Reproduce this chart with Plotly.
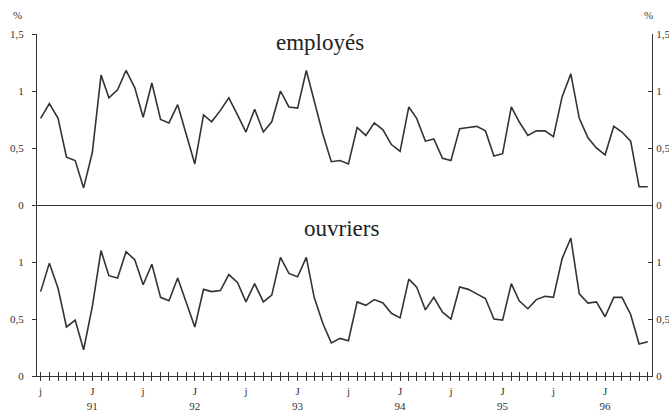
import pandas as pd
import plotly.graph_objects as go

# mois : juillet 1990 -> juin 1996
mois = pd.date_range("1990-07-01", "1996-06-01", freq="MS")

employes = [
    0.76, 0.89, 0.76, 0.42, 0.39, 0.15, 0.46, 1.14, 0.94, 1.01,
    1.18, 1.03, 0.77, 1.07, 0.75, 0.72, 0.88, 0.62, 0.36, 0.79,
    0.73, 0.83, 0.94, 0.79, 0.64, 0.84, 0.64, 0.73, 1.00, 0.86,
    0.85, 1.18, 0.92, 0.62, 0.38, 0.39, 0.36, 0.68, 0.61, 0.72,
    0.66, 0.53, 0.47, 0.86, 0.76, 0.56, 0.58, 0.41, 0.39, 0.67,
    0.68, 0.69, 0.65, 0.43, 0.45, 0.86, 0.73, 0.61, 0.65, 0.65,
    0.60, 0.95, 1.15, 0.76, 0.59, 0.50, 0.44, 0.69, 0.64, 0.56,
    0.16, 0.16,
]

ouvriers = [
    0.74, 0.99, 0.77, 0.43, 0.49, 0.23, 0.61, 1.10, 0.88, 0.86,
    1.09, 1.02, 0.80, 0.98, 0.69, 0.66, 0.86, 0.64, 0.43, 0.76,
    0.74, 0.75, 0.89, 0.82, 0.65, 0.81, 0.65, 0.71, 1.04, 0.90,
    0.87, 1.04, 0.69, 0.46, 0.29, 0.33, 0.31, 0.65, 0.62, 0.67,
    0.64, 0.55, 0.51, 0.85, 0.78, 0.58, 0.69, 0.56, 0.50, 0.78,
    0.76, 0.72, 0.68, 0.50, 0.49, 0.81, 0.66, 0.59, 0.67, 0.70,
    0.69, 1.03, 1.21, 0.72, 0.64, 0.65, 0.52, 0.69, 0.69, 0.54,
    0.28, 0.30,
]

y_vals = [0, 0.5, 1, 1.5]
y_text = ["0", "0,5", "1", "1,5"]
y_vals_bas = [0, 0.5, 1]
y_text_bas = ["0", "0,5", "1"]

# étiquettes de l'axe des x : j = juillet, J = janvier + année
x_text = []
for d in mois:
    if d.month == 7:
        x_text.append("j")
    elif d.month == 1:
        x_text.append("J<br>" + d.strftime("%y"))
    else:
        x_text.append("")

encre = "#333333"
police = "Liberation Serif, Times New Roman, DejaVu Serif, serif"
x_range = [mois[0] - pd.Timedelta(days=13), mois[-1] + pd.Timedelta(days=15)]

fig = go.Figure()
fig.add_trace(go.Scatter(x=mois, y=employes, mode="lines", xaxis="x", yaxis="y",
                         line=dict(color=encre, width=1.6), showlegend=False))
fig.add_trace(go.Scatter(x=mois, y=ouvriers, mode="lines", xaxis="x2", yaxis="y2",
                         line=dict(color=encre, width=1.6), showlegend=False))
# traces invisibles pour faire apparaître les axes de droite
fig.add_trace(go.Scatter(x=mois, y=employes, mode="lines", xaxis="x", yaxis="y3",
                         line=dict(width=0), opacity=0, showlegend=False, hoverinfo="skip"))
fig.add_trace(go.Scatter(x=mois, y=ouvriers, mode="lines", xaxis="x2", yaxis="y4",
                         line=dict(width=0), opacity=0, showlegend=False, hoverinfo="skip"))
fig.add_trace(go.Scatter(x=mois, y=ouvriers, mode="lines", xaxis="x3", yaxis="y2",
                         line=dict(width=0), opacity=0, showlegend=False, hoverinfo="skip"))

axe_y = dict(range=[0, 1.5], showgrid=False, zeroline=False, showline=True,
             linecolor=encre, linewidth=1, tickcolor=encre, ticklen=4,
             tickfont=dict(family=police, size=11, color=encre), automargin=False)

fig.update_layout(
    template="none",
    width=669, height=413,
    margin=dict(l=37, r=17, t=34, b=37),
    paper_bgcolor="white", plot_bgcolor="white",
    font=dict(family=police, color=encre),
    xaxis=dict(domain=[0, 1], anchor="y", range=x_range, showgrid=False, zeroline=False,
               showline=True, linecolor=encre, linewidth=1, ticks="", showticklabels=False),
    xaxis2=dict(domain=[0, 1], anchor="y2", range=x_range, matches="x", showgrid=False,
                zeroline=False, showline=True, linecolor=encre, linewidth=1,
                tickmode="array", tickvals=mois, ticktext=x_text, ticks="outside",
                ticklen=4, tickcolor=encre, tickangle=0, ticklabelstandoff=1,
                tickfont=dict(family=police, size=11, color=encre), automargin=False),
    xaxis3=dict(overlaying="x2", anchor="y2", range=x_range, matches="x", showgrid=False,
                zeroline=False, showline=False, tickmode="array", tickvals=mois,
                ticks="inside", ticklen=4, tickcolor=encre, showticklabels=False),
    yaxis=dict(axe_y, domain=[0.5, 1], anchor="x", side="left", ticks="outside",
               tickmode="array", tickvals=y_vals, ticktext=y_text, ticklabelstandoff=6),
    yaxis2=dict(axe_y, domain=[0, 0.5], anchor="x2", side="left", ticks="outside",
                tickmode="array", tickvals=y_vals_bas, ticktext=y_text_bas, ticklabelstandoff=6),
    yaxis3=dict(axe_y, overlaying="y", anchor="x", side="right", ticks="inside",
                tickmode="array", tickvals=y_vals, ticktext=y_text, ticklabelstandoff=1),
    yaxis4=dict(axe_y, overlaying="y2", anchor="x2", side="right", ticks="inside",
                tickmode="array", tickvals=y_vals_bas, ticktext=y_text_bas, ticklabelstandoff=1),
    annotations=[
        dict(text="employés", x=0.46, y=0.975, xref="paper", yref="paper",
             xanchor="center", yanchor="middle", showarrow=False,
             font=dict(family=police, size=23, color="#222222")),
        dict(text="ouvriers", x=0.495, y=0.43, xref="paper", yref="paper",
             xanchor="center", yanchor="middle", showarrow=False,
             font=dict(family=police, size=23, color="#222222")),
        dict(text="%", x=-0.032, y=1.056, xref="paper", yref="paper",
             xanchor="center", yanchor="middle", showarrow=False,
             font=dict(family=police, size=11, color=encre)),
        dict(text="%", x=0.995, y=1.056, xref="paper", yref="paper",
             xanchor="center", yanchor="middle", showarrow=False,
             font=dict(family=police, size=11, color=encre)),
    ],
)

# la page du navigateur ajoute une marge de 8 px : on la supprime
fig.write_html("out.html", config={"displayModeBar": False},
               post_script="document.body.style.margin='0';")
